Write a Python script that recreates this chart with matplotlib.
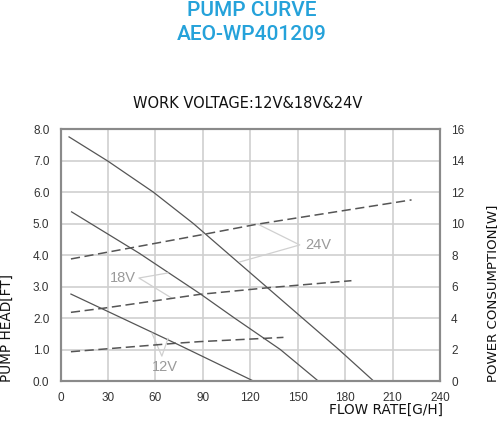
import matplotlib
matplotlib.use('Agg')
import matplotlib.pyplot as plt
import matplotlib as mpl

mpl.rcParams['font.family'] = 'sans-serif'
mpl.rcParams['font.sans-serif'] = ['Liberation Sans', 'DejaVu Sans']

# Data (flow rate in G/H)
head_24_q = [5.4, 30, 58.6, 84, 107, 130, 153, 176, 198]
head_24 = [7.75, 6.98, 6.0, 5.0, 4.0, 3.0, 2.0, 1.0, 0.0]
head_18_q = [7, 50, 88, 110, 139, 163]
head_18 = [5.37, 4.05, 2.78, 2.0, 1.0, 0.0]
head_12_q = [6.6, 73.4, 122]
head_12 = [2.76, 1.18, 0.0]

power_24_q = [6.6, 90, 124, 222]
power_24 = [7.75, 9.3, 9.95, 11.5]
power_18_q = [6.6, 27, 88, 131, 184]
power_18 = [4.36, 4.62, 5.5, 5.92, 6.37]
power_12_q = [6.6, 73.4, 88, 141]
power_12 = [1.86, 2.4, 2.5, 2.77]

x_ticks = [0, 30, 60, 90, 120, 150, 180, 210, 240]
head_ticks = [0, 1, 2, 3, 4, 5, 6, 7, 8]
power_ticks = [0, 2, 4, 6, 8, 10, 12, 14, 16]

fig = plt.figure(figsize=(5, 4.24), dpi=100)
ax = fig.add_axes([0.121, 0.1014, 0.759, 0.5943])
ax2 = ax.twinx()

line_col = '#555555'
ax.plot(head_24_q, head_24, color=line_col, lw=0.9)
ax.plot(head_18_q, head_18, color=line_col, lw=0.9)
ax.plot(head_12_q, head_12, color=line_col, lw=0.9)
for q, p in [(power_24_q, power_24), (power_18_q, power_18), (power_12_q, power_12)]:
    ax2.plot(q, p, color=line_col, lw=1.1, dashes=(6, 3))

ax.set_xlim(0, 240)
ax.set_ylim(0, 8)
ax2.set_ylim(0, 16)
ax.set_xticks(x_ticks)
ax.set_yticks(head_ticks)
ax.set_yticklabels(['%.1f' % v for v in head_ticks])
ax2.set_yticks(power_ticks)

ax.grid(True, color='#cfcfcf', lw=1.2)
ax.set_axisbelow(True)
for a in (ax, ax2):
    for s in a.spines.values():
        s.set_color('#8a8a8a')
        s.set_linewidth(1.5)
ax.tick_params(length=0, pad=8, labelsize=8.5, labelcolor='#333333')
ax2.tick_params(length=0, pad=8, labelsize=8.5, labelcolor='#333333')

# Voltage callouts
lab_col = '#9a9a9a'
lead_col = '#d0d0d0'
ax.plot([124.8, 151.3, 113.4], [4.98, 4.32, 3.78], color=lead_col, lw=0.9)
ax.text(155, 4.32, '24V', color=lab_col, fontsize=10.5, ha='left', va='center')
ax.plot([67.9, 49.6, 70.4], [3.43, 3.27, 2.63], color=lead_col, lw=0.9)
ax.text(47.7, 3.27, '18V', color=lab_col, fontsize=10.5, ha='right', va='center')
ax.plot([57.8, 64.1, 68.0], [1.52, 0.79, 1.35], color=lead_col, lw=0.9)
ax.text(66, 0.44, '12V', color=lab_col, fontsize=10.5, ha='center', va='center')

# Titles
title_col = '#25a2da'
fig.text(0.504, 1 - 10 / 424, 'PUMP CURVE', color=title_col, fontsize=15,
         family='Roboto', weight='medium', ha='center', va='center')
fig.text(0.504, 1 - 35 / 424, 'AEO-WP401209', color=title_col, fontsize=15,
         family='Roboto', weight='medium', ha='center', va='center')
fig.text(0.495, 1 - 103 / 424, 'WORK VOLTAGE:12V&18V&24V', color='#111111',
         fontsize=10.5, family='DejaVu Sans', ha='center', va='center')

# Axis labels
fig.text(443 / 500, 1 - 410 / 424, 'FLOW RATE[G/H]', color='#111111', fontsize=9.8,
         family='DejaVu Sans', ha='right', va='center')
fig.text(7 / 500, 42 / 424, 'PUMP HEAD[FT]', color='#111111', fontsize=9.8,
         family='DejaVu Sans', ha='center', va='bottom', rotation=90)
fig.text(493 / 500, 42 / 424, 'POWER CONSUMPTION[W]', color='#111111', fontsize=9.6,
         family='DejaVu Sans', ha='center', va='bottom', rotation=90)

fig.savefig('out.png', dpi=100)
